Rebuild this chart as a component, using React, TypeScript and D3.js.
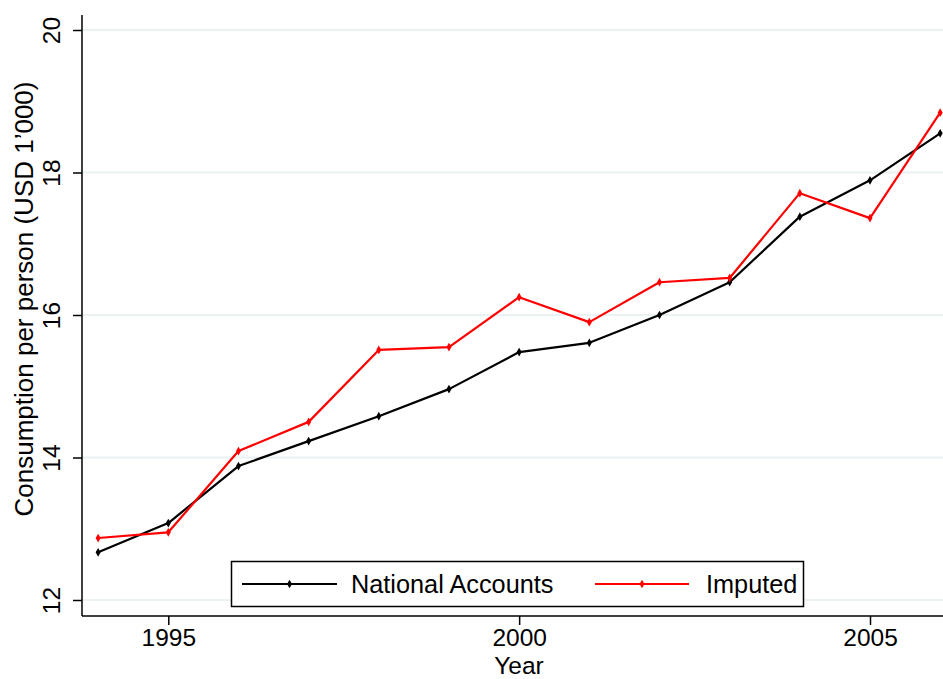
import { useEffect, useRef } from 'react';
import * as d3 from 'd3';

const years = [1994, 1995, 1996, 1997, 1998, 1999, 2000, 2001, 2002, 2003, 2004, 2005, 2006];
const nationalAccounts = [12.67, 13.08, 13.88, 14.23, 14.58, 14.96, 15.48, 15.61, 16.0, 16.46, 17.38, 17.89, 18.55];
const imputed = [12.87, 12.95, 14.09, 14.5, 15.51, 15.55, 16.25, 15.9, 16.46, 16.52, 17.71, 17.36, 18.84];
const xTicks = [1995, 2000, 2005];
const yTicks = [12, 14, 16, 18, 20];

const series = [
  { name: 'National Accounts', values: nationalAccounts, color: '#000000' },
  { name: 'Imputed', values: imputed, color: '#ff0000' },
];

const FONT = 'Liberation Sans, Arial, Helvetica, sans-serif';

export default function App() {
  const svgRef = useRef<SVGSVGElement>(null);

  useEffect(() => {
    const svg = d3.select(svgRef.current);
    if (!svg.node()) return;
    svg.selectAll('*').remove();

    const width = 943;
    const height = 679;
    const axisX = 82;
    const axisY = 616;

    // tick positions measured: 1995 -> 168.3, 2005 -> 870
    const x = d3.scaleLinear().domain([1995, 2005]).range([168.3, 870]);
    const y = d3.scaleLinear().domain([12, 20]).range([600, 30]);

    svg.attr('viewBox', `0 0 ${width} ${height}`).attr('width', width).attr('height', height);
    svg.append('rect').attr('width', width).attr('height', height).attr('fill', '#ffffff');

    const g = svg.append('g');

    // gridlines
    g.append('g')
      .selectAll('line')
      .data(yTicks)
      .join('line')
      .attr('x1', axisX)
      .attr('x2', width)
      .attr('y1', (d) => y(d))
      .attr('y2', (d) => y(d))
      .attr('stroke', '#eaf2f3')
      .attr('stroke-width', 2);

    // y axis
    const yAxis = g
      .append('g')
      .attr('transform', `translate(${axisX},0)`)
      .call(d3.axisLeft(y).tickValues(yTicks).tickSize(9).tickPadding(4).tickFormat((v) => `${v}`));
    yAxis.select('.domain').remove();
    yAxis.selectAll('line').attr('stroke', '#000').attr('stroke-width', 1.5);
    yAxis
      .selectAll('text')
      .attr('font-family', FONT)
      .attr('font-size', 24.5)
      .attr('fill', '#000')
      .attr('x', null)
      .attr('dy', null)
      .attr('text-anchor', 'middle')
      .attr('transform', 'translate(-22,0) rotate(-90)');
    g.append('line')
      .attr('x1', axisX)
      .attr('x2', axisX)
      .attr('y1', 15)
      .attr('y2', axisY)
      .attr('stroke', '#000')
      .attr('stroke-width', 1.5);

    // x axis
    const xAxis = g
      .append('g')
      .attr('transform', `translate(0,${axisY})`)
      .call(d3.axisBottom(x).tickValues(xTicks).tickSize(9).tickPadding(4).tickFormat((v) => `${v}`));
    xAxis.select('.domain').remove();
    xAxis.selectAll('line').attr('stroke', '#000').attr('stroke-width', 1.5);
    xAxis.selectAll('text').attr('font-family', FONT).attr('font-size', 24.5).attr('fill', '#000');
    g.append('line')
      .attr('x1', axisX)
      .attr('x2', width)
      .attr('y1', axisY)
      .attr('y2', axisY)
      .attr('stroke', '#000')
      .attr('stroke-width', 1.5);

    // axis titles
    g.append('text')
      .attr('x', 519)
      .attr('y', 674)
      .attr('text-anchor', 'middle')
      .attr('font-family', FONT)
      .attr('font-size', 24.5)
      .text('Year');

    g.append('text')
      .attr('transform', `translate(33,299) rotate(-90)`)
      .attr('text-anchor', 'middle')
      .attr('font-family', FONT)
      .attr('font-size', 26)
      .text('Consumption per person (USD 1\u2019000)');

    // lines and markers
    const line = d3
      .line<number>()
      .x((_, i) => x(years[i]))
      .y((d) => y(d));

    const diamond = d3.symbol().type(d3.symbolDiamond).size(22);

    series.forEach((s) => {
      g.append('path')
        .attr('d', line(s.values))
        .attr('fill', 'none')
        .attr('stroke', s.color)
        .attr('stroke-width', 2.2)
        .attr('stroke-linejoin', 'round');
      g.append('g')
        .selectAll('path')
        .data(s.values)
        .join('path')
        .attr('d', diamond)
        .attr('transform', (d, i) => `translate(${x(years[i])},${y(d)})`)
        .attr('fill', s.color);
    });

    // legend
    const legend = g.append('g');
    legend
      .append('rect')
      .attr('x', 231.5)
      .attr('y', 561.5)
      .attr('width', 572)
      .attr('height', 45)
      .attr('fill', '#fff')
      .attr('stroke', '#000')
      .attr('stroke-width', 1.5);

    const legendItems = [
      { x0: 242, x1: 337, tx: 351 },
      { x0: 595, x1: 689, tx: 706 },
    ];
    series.forEach((s, i) => {
      const it = legendItems[i];
      const ly = 584;
      legend
        .append('line')
        .attr('x1', it.x0)
        .attr('x2', it.x1)
        .attr('y1', ly)
        .attr('y2', ly)
        .attr('stroke', s.color)
        .attr('stroke-width', 2.2);
      legend
        .append('path')
        .attr('d', diamond)
        .attr('transform', `translate(${(it.x0 + it.x1) / 2},${ly})`)
        .attr('fill', s.color);
      legend
        .append('text')
        .attr('x', it.tx)
        .attr('y', ly + 9)
        .attr('font-family', FONT)
        .attr('font-size', 25.3)
        .text(s.name);
    });
  }, []);

  return (
    <div style={{ position: 'absolute', left: 0, top: 0, width: 943, height: 679 }}>
      <svg ref={svgRef} role="img" aria-label="Consumption per person, National Accounts vs Imputed" />
    </div>
  );
}
